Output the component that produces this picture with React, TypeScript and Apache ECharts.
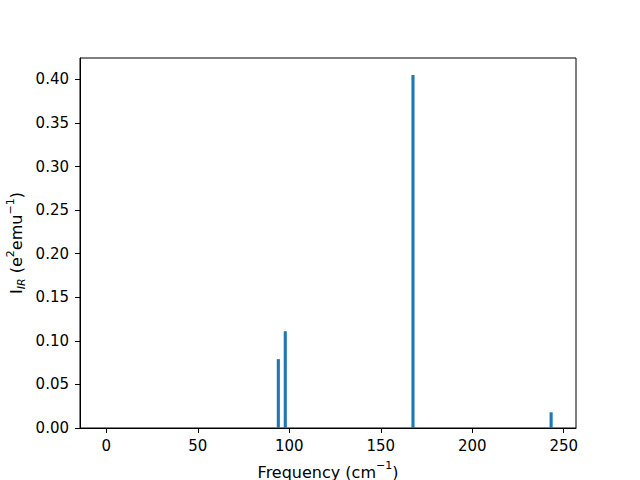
import React, { useEffect, useRef } from "react";
import * as echarts from "echarts";

const frequencies = [94.0, 97.8, 167.6, 243.1];
const intensities = [0.079, 0.111, 0.405, 0.018];
const barWidthUnits = 1.7;
const xTicks = [0, 50, 100, 150, 200, 250];
const yTicks = [0, 0.05, 0.1, 0.15, 0.2, 0.25, 0.3, 0.35, 0.4];
const xRange = [-14.4, 256.7];
const yRange = [0, 0.4245];

const FONT = "DejaVu Sans";

export default function App() {
  const ref = useRef<HTMLDivElement>(null);
  useEffect(() => {
    const chart = echarts.init(ref.current!, null, { renderer: "svg" });
    const data = frequencies.map((f, i) => [f, intensities[i]]);
    chart.setOption({
      animation: false,
      backgroundColor: "#ffffff",
      grid: {
        left: 80,
        right: 64,
        top: 58,
        bottom: 52,
        show: true,
        borderColor: "#000000",
        borderWidth: 1,
        backgroundColor: "transparent",
      },
      xAxis: {
        type: "value",
        min: xRange[0],
        max: xRange[1],
        axisLine: { show: true, onZero: false, lineStyle: { color: "#000", width: 1 } },
        axisTick: { show: true, customValues: xTicks, length: 5, lineStyle: { color: "#000" } },
        axisLabel: {
          customValues: xTicks,
          color: "#000",
          fontFamily: FONT,
          fontSize: 15,
          margin: 10,
          formatter: (v: number) => String(Math.round(v)),
        },
        splitLine: { show: false },
      },
      yAxis: {
        type: "value",
        min: yRange[0],
        max: yRange[1],
        axisLine: { show: true, onZero: false, lineStyle: { color: "#000", width: 1 } },
        axisTick: { show: true, customValues: yTicks, length: 5, lineStyle: { color: "#000" } },
        axisLabel: {
          customValues: yTicks,
          color: "#000",
          fontFamily: FONT,
          fontSize: 15,
          margin: 11,
          formatter: (v: number) => v.toFixed(2),
        },
        splitLine: { show: false },
      },
      series: [
        {
          type: "custom",
          data,
          renderItem: (params: any, api: any) => {
            const x = api.value(0);
            const y = api.value(1);
            const p0 = api.coord([x - barWidthUnits / 2, 0]);
            const p1 = api.coord([x + barWidthUnits / 2, y]);
            return {
              type: "rect",
              shape: { x: p0[0], y: p1[1], width: p1[0] - p0[0], height: p0[1] - p1[1] },
              style: { fill: "#1f77b4" },
            };
          },
        },
      ],
      graphic: [
        {
          type: "text",
          x: 328,
          y: 470,
          style: {
            text: "{n|Frequency (cm}{s|−1}{n|)}",
            x: 0,
            y: 0,
            align: "center",
            verticalAlign: "middle",
            rich: {
              n: { fontFamily: FONT, fontSize: 16, fill: "#000", lineHeight: 20, verticalAlign: "bottom" },
              s: { fontFamily: FONT, fontSize: 11, fill: "#000", lineHeight: 20, verticalAlign: "top" },
            },
          },
        },
        {
          type: "text",
          x: 16,
          y: 243,
          rotation: Math.PI / 2,
          style: {
            text: "{n|I}{b|IR}{n| (e}{s|2}{n|emu}{s|−1}{n|)}",
            x: 0,
            y: 0,
            align: "center",
            verticalAlign: "middle",
            rich: {
              n: { fontFamily: FONT, fontSize: 16, fill: "#000", lineHeight: 22, verticalAlign: "middle" },
              s: { fontFamily: FONT, fontSize: 11, fill: "#000", lineHeight: 22, verticalAlign: "top" },
              b: { fontFamily: FONT, fontSize: 11, fontStyle: "italic", fill: "#000", lineHeight: 22, verticalAlign: "bottom" },
            },
          },
        },
      ],
    });
    return () => chart.dispose();
  }, []);
  return <div ref={ref} style={{ position: "absolute", left: 0, top: 0, width: 640, height: 480 }} />;
}
